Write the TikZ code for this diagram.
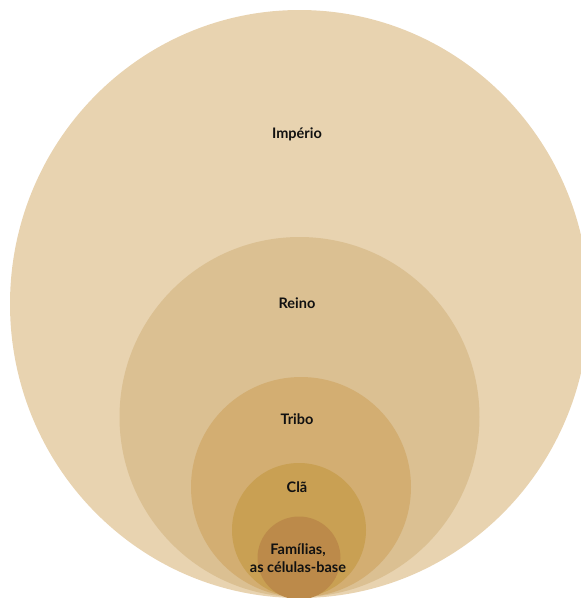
\documentclass[tikz,border=0pt]{standalone}
\usepackage{fontspec}
\setmainfont{Lato}
\definecolor{c1}{HTML}{E8D3B0}
\definecolor{c2}{HTML}{DBC092}
\definecolor{c3}{HTML}{D3AE72}
\definecolor{c4}{HTML}{C9A053}
\definecolor{c5}{HTML}{BC8A4A}
\definecolor{txt}{HTML}{111111}
\begin{document}
\begin{tikzpicture}[x=1pt,y=-1pt,
  lbl/.style={font=\bfseries\fontsize{14.5}{18}\selectfont, text=txt, align=center, inner sep=0pt, anchor=base},
  ring/.style={circle, inner sep=0pt, minimum size=#1}]
\useasboundingbox (0,0) rectangle (581,598);
\clip (0,0) rectangle (581,598);
\fill[c1] (299.5,304) ellipse [x radius=289.5, y radius=294];
\node[ring=360pt, fill=c2] (reino) at (299.5,417) {};
\node[ring=220pt, fill=c3] (tribo) at (301,487) {};
\node[ring=134pt, fill=c4] (cla) at (299,530) {};
\node[ring=83pt, fill=c5] (fam) at (299,558) {};
\node[lbl] (limperio) at (297,138) {Império};
\node[lbl] (lreino) at (297,308) {Reino};
\node[lbl] (ltribo) at (297,424) {Tribo};
\node[lbl] (lcla) at (297,492) {Clã};
\node[lbl] (lfam) at (298,572) {Famílias,\\as células-base};
\end{tikzpicture}
\end{document}
